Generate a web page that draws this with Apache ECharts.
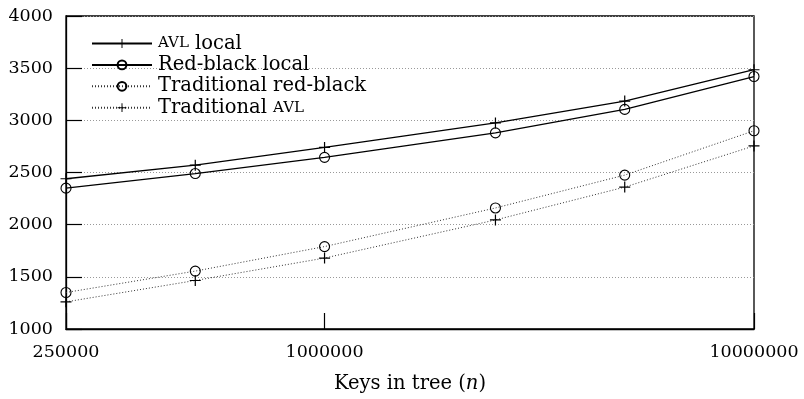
<!DOCTYPE html>
<html>
<head>
<meta charset="utf-8">
<script src="https://cdn.jsdelivr.net/npm/echarts@6/dist/echarts.min.js"></script>
<style>
  html, body { margin: 0; padding: 0; background: #fff; }
  #chart { width: 804px; height: 399px; }
</style>
</head>
<body>
<div id="chart"></div>
<script>
// Number of keys in the tree (log-scaled x axis)
const keys = [250000, 500000, 1000000, 2500000, 5000000, 10000000];

// Measured values per tree variant
const avlLocal = [2440, 2570, 2740, 2975, 3185, 3485];
const rbLocal = [2350, 2490, 2645, 2880, 3105, 3420];
const tradRedBlack = [1350, 1555, 1790, 2160, 2475, 2900];
const tradAvl = [1260, 1465, 1680, 2045, 2360, 2755];

// Axis ranges and tick labels
const xTickLabels = ['250000', '1000000', '10000000'];
const yMin = 1000, yMax = 4000, yStep = 500;

const serif = '"DejaVu Serif", "Liberation Serif", serif';
const numSize = 17.5;   // tick label digits
const textSize = 19.5;  // legend and axis title
const plusPath = 'path://M4.45,0H5.55V10H4.45Z M0,4.45H10V5.55H0Z';

function pairs(ys) { return keys.map((k, i) => [k, ys[i]]); }

function markStyle(symbol) {
  return symbol === 'circle'
    ? { color: 'rgba(0,0,0,0)', borderColor: '#000', borderWidth: 1.1 }
    : { color: '#000', borderWidth: 0 };
}

function series(name, ys, symbol, size, dotted) {
  return {
    name, type: 'line', data: pairs(ys),
    symbol, symbolSize: size, showSymbol: true,
    lineStyle: dotted ? { color: '#333', width: 1, type: [1, 2] } : { color: '#000', width: 1.3, type: 'solid' },
    itemStyle: markStyle(symbol),
    emphasis: { disabled: true }, z: 3
  };
}

const chart = echarts.init(document.getElementById('chart'), null, { renderer: 'canvas' });
chart.setOption({
  animation: false,
  backgroundColor: '#fff',
  textStyle: { fontFamily: serif, color: '#000' },
  grid: { left: 66, right: 50, top: 16, bottom: 66, show: true, borderColor: '#000', borderWidth: 1.3, backgroundColor: 'transparent' },
  legend: {
    orient: 'vertical', left: 86, top: 28,
    itemWidth: 60, itemHeight: 11, itemGap: 0.4,
    backgroundColor: 'transparent',
    textStyle: {
      fontFamily: serif, fontSize: textSize, color: '#000', padding: [0, 0, 0, 1], lineHeight: 21,
      rich: { sc: { fontFamily: serif, fontSize: 15, color: '#000', lineHeight: 21 } }
    },
    formatter: name => name.replace('AVL', '{sc|AVL}'),
    data: ['AVL local', 'Red-black local', 'Traditional red-black', 'Traditional AVL']
  },
  xAxis: {
    type: 'log', logBase: 10, min: keys[0], max: keys[keys.length - 1],
    name: 'Keys in tree ({i|n})', nameLocation: 'middle', nameGap: 45,
    nameTextStyle: { fontFamily: serif, fontSize: textSize, color: '#000', rich: { i: { fontFamily: serif, fontStyle: 'italic', fontSize: textSize, color: '#000' } } },
    axisLine: { show: true, lineStyle: { color: '#000', width: 1.3 } },
    axisTick: { show: true, inside: true, length: 16, lineStyle: { color: '#000', width: 1.2 } },
    axisLabel: {
      fontFamily: serif, fontSize: numSize, color: '#000', margin: 14,
      formatter: v => { const s = String(Math.round(v)); return xTickLabels.includes(s) ? s : ''; }
    },
    splitLine: { show: false }, minorTick: { show: false }
  },
  yAxis: {
    type: 'value', min: yMin, max: yMax, interval: yStep,
    axisLine: { show: true, lineStyle: { color: '#000', width: 1.3 } },
    axisTick: { show: true, inside: true, length: 16, lineStyle: { color: '#000', width: 1.2 } },
    axisLabel: { fontFamily: serif, fontSize: numSize, color: '#000', margin: 13, formatter: v => String(v) },
    splitLine: { show: true, lineStyle: { color: '#999', width: 1, type: [1, 2] } }
  },
  series: [
    series('AVL local', avlLocal, plusPath, 11, false),
    series('Red-black local', rbLocal, 'circle', 10, false),
    series('Traditional red-black', tradRedBlack, 'circle', 10, true),
    series('Traditional AVL', tradAvl, plusPath, 11, true)
  ]
});
</script>
</body>
</html>
